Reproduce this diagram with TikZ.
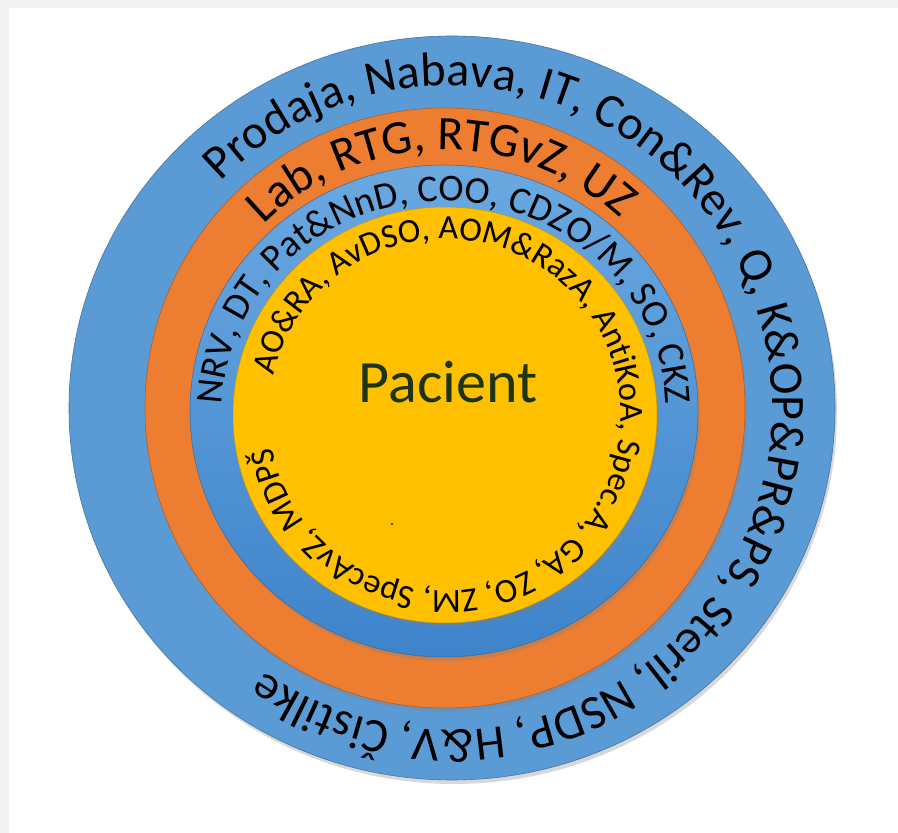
\documentclass[tikz,border=0pt]{standalone}
\usepackage{fontspec}
\setmainfont{Carlito}
\usetikzlibrary{decorations.text,shadows}
\definecolor{outerblue}{HTML}{5B9BD5}
\definecolor{ringorange}{HTML}{ED7D31}
\definecolor{innerblueTop}{HTML}{6AA8E0}
\definecolor{innerblueBot}{HTML}{3E84CB}
\definecolor{coreyellow}{HTML}{FFC000}
\definecolor{pacgreen}{HTML}{1C3414}
\definecolor{framegray}{HTML}{F2F2F2}
\tikzset{
  ringshadow/.style={drop shadow={opacity=0.3, shadow xshift=2pt, shadow yshift=-4pt}},
  arctext/.style n args={3}{decorate, decoration={text along path, text align=center,
      text={|\color{#1}\fontsize{#2}{#2}\selectfont|#3}}}
}
\begin{document}
\begin{tikzpicture}[x=1pt,y=1pt]
\useasboundingbox (0,0) rectangle (898,833);
\fill[white] (0,0) rectangle (898,833);
\fill[framegray] (0,825) rectangle (898,833);
\fill[framegray] (0,0) rectangle (9,833);

% rings
\fill[outerblue, draw=outerblue!75!black, line width=0.6pt, ringshadow] (452,425) ellipse [x radius=383, y radius=372];
\fill[ringorange, draw=ringorange!75!black, line width=0.6pt, ringshadow] (445,425) circle [radius=300];
\shade[top color=innerblueTop, bottom color=innerblueBot, draw=innerblueBot!80!black, line width=0.5pt, ringshadow] (444,422) ellipse [x radius=254, y radius=246];
\fill[coreyellow, draw=coreyellow!80!black, line width=0.5pt, ringshadow] (445,418) ellipse [x radius=212, y radius=208];

\coordinate (co) at (450,425);
\coordinate (cr) at (445,425);
\coordinate (cb) at (444,422);
\coordinate (cy) at (445,418);

% outer ring text
\path[arctext={black}{48}{Prodaja, Nabava, IT, Con{\&}Rev, Q, K{\&}OP{\&}PR{\&}PS, Steril, NSDP, H{\&}V, Čistilke}]
  ([shift={(175:322)}]co) arc[start angle=175, end angle=-165, radius=322];

% orange ring text
\path[arctext={black}{48}{Lab, RTG, RTGvZ, UZ}]
  ([shift={(181:258)}]cr) arc[start angle=181, end angle=1, radius=258];

% inner blue ring text
\path[arctext={black}{38}{NRV, DT, Pat{\&}NnD, COO, CDZO/M, SO, CKZ}]
  ([shift={(240:222 and 210)}]cb) arc[start angle=240, end angle=-60, x radius=222, y radius=210];

% yellow core text
\path[arctext={black}{34}{AO{\&}RA, AvDSO, AOM{\&}RazA, AntiKoA, Spec.A, GA, ZO, ZM, SpecAvZ, MDPŠ}]
  ([shift={(178.75:176)}]cy) arc[start angle=178.75, end angle=-181.25, radius=176];

\node[font=\fontsize{60}{72}\selectfont, text=pacgreen, anchor=base] (pacient) at (448,430) {Pacient};
\fill[gray!60!black] (392,309) circle [radius=1.3];
\end{tikzpicture}
\end{document}
